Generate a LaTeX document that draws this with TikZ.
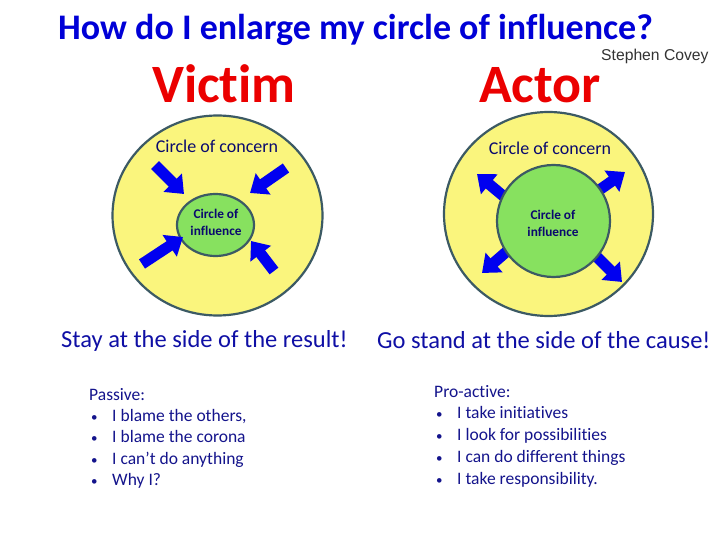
\documentclass[tikz,border=0pt]{standalone}
\usepackage{fontspec}
\setmainfont[Ligatures=NoCommon]{Carlito}
\newfontfamily\arialfont{Liberation Sans}
\usetikzlibrary{arrows.meta}
\definecolor{titleblue}{RGB}{0,0,215}
\definecolor{headred}{RGB}{235,0,0}
\definecolor{navy}{RGB}{10,10,110}
\definecolor{textblue}{RGB}{15,15,165}
\definecolor{listblue}{RGB}{20,20,140}
\definecolor{concernfill}{RGB}{250,245,125}
\definecolor{influencefill}{RGB}{135,225,95}
\definecolor{rimcolor}{RGB}{60,90,100}
\definecolor{arrowblue}{RGB}{0,0,240}
\tikzset{
  concern/.style={draw=rimcolor, line width=2.2pt, fill=concernfill},
  influence/.style={draw=rimcolor, line width=2.2pt, fill=influencefill},
  blockarrow/.style={arrowblue, line width=11pt, -{Triangle[length=16pt,width=25pt]}},
  txt/.style={inner sep=0pt, anchor=base west},
  listtxt/.style={txt, listblue, font=\fontsize{17.5}{20}\selectfont},
  bullettxt/.style={txt, listblue, font=\fontsize{13}{20}\selectfont},
}
\begin{document}
\begin{tikzpicture}[x=1pt,y=-1pt]
\useasboundingbox (0,0) rectangle (720,540);
\fill[white] (0,0) rectangle (720,540);

% title
\node[txt, titleblue, font=\fontsize{36}{40}\selectfont\bfseries] (title) at (58,40) {How do I enlarge my circle of influence?};
\node[txt, font=\fontsize{15.7}{18}\arialfont, black!80] (covey) at (601,61) {Stephen Covey};
\node[inner sep=0pt, anchor=base, headred, font=\fontsize{54}{58}\selectfont\bfseries] (victim) at (224,103) {Victim};
\node[inner sep=0pt, anchor=base, headred, font=\fontsize{54}{58}\selectfont\bfseries] (actor) at (540,103) {Actor};

% left circles
\path[concern] (217.5,215.5) ellipse[x radius=105, y radius=100];
\node[inner sep=0pt, anchor=base, navy, font=\fontsize{18}{20}\selectfont] (lconcern) at (217,153) {Circle of concern};
\path[influence] (215.5,225) ellipse[x radius=38.5, y radius=31];
\node[inner sep=0pt, align=center, navy, font=\fontsize{13.3}{17}\selectfont\bfseries] (linfl) at (216,222) {Circle of\\influence};
\coordinate (la1) at (155,165); \coordinate (lb1) at (184,194);
\coordinate (la2) at (286,168); \coordinate (lb2) at (250,193);
\coordinate (la3) at (142,264); \coordinate (lb3) at (183,237);
\coordinate (la4) at (274,271); \coordinate (lb4) at (251,241);
\draw[blockarrow] (la1) -- (lb1);
\draw[blockarrow] (la2) -- (lb2);
\draw[blockarrow] (la3) -- (lb3);
\draw[blockarrow] (la4) -- (lb4);

% right circles
\path[concern] (548.5,214) ellipse[x radius=104.5, y radius=102];
\node[inner sep=0pt, anchor=base, navy, font=\fontsize{18}{20}\selectfont] (rconcern) at (550,155) {Circle of concern};
\coordinate (ra1) at (520,210); \coordinate (rb1) at (477,174);
\coordinate (ra2) at (585,200); \coordinate (rb2) at (625,172);
\coordinate (ra3) at (520,240); \coordinate (rb3) at (482,273);
\coordinate (ra4) at (585,245); \coordinate (rb4) at (622,282);
\draw[blockarrow] (ra1) -- (rb1);
\draw[blockarrow] (ra2) -- (rb2);
\draw[blockarrow] (ra3) -- (rb3);
\draw[blockarrow] (ra4) -- (rb4);
\path[influence] (553.5,221) ellipse[x radius=56.5, y radius=56];
\node[inner sep=0pt, align=center, navy, font=\fontsize{13.3}{17}\selectfont\bfseries] (rinfl) at (553,223) {Circle of\\influence};

% slogans
\node[txt, textblue, font=\fontsize{24.5}{28}\selectfont] (stay) at (61,347) {Stay at the side of the result!};
\node[txt, textblue, font=\fontsize{24.5}{28}\selectfont] (go) at (377,348) {Go stand at the side of the cause!};

% left list
\node[listtxt] (p0) at (89,400) {Passive:};
\foreach \y/\t [count=\i] in {421/{I blame the others,}, 442/{I blame the corona}, 464/{I can’t do anything}, 485/{Why I?}} {
  \node[bullettxt] (pb\i) at (91,\y) {•};
  \node[listtxt] (pt\i) at (112,\y) {\t};
}
% right list
\node[listtxt] (a0) at (434,397) {Pro-active:};
\foreach \y/\t [count=\i] in {418/{I take initiatives}, 440/{I look for possibilities}, 462/{I can do different things}, 484/{I take responsibility.}} {
  \node[bullettxt] (ab\i) at (436,\y) {•};
  \node[listtxt] (at\i) at (457,\y) {\t};
}
\end{tikzpicture}
\end{document}
